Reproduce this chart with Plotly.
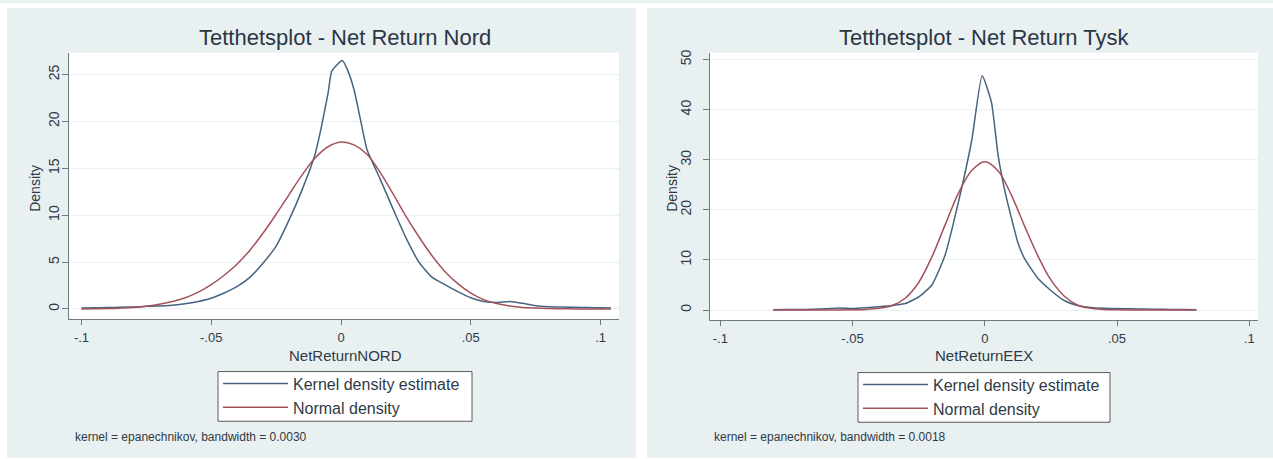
import plotly.graph_objects as go

W, H = 1273, 459

# ---------------- data ----------------
nord_x_kde = [-0.100, -0.095, -0.090, -0.085, -0.080, -0.075, -0.070, -0.065, -0.060, -0.055,
              -0.050, -0.045, -0.040, -0.035, -0.030, -0.025, -0.020, -0.015, -0.010, -0.0075,
              -0.005, -0.0035, 0.0005, 0.0025, 0.005, 0.0075, 0.010, 0.015, 0.020, 0.025,
              0.030, 0.035, 0.040, 0.045, 0.050, 0.055, 0.060, 0.065, 0.070, 0.075,
              0.080, 0.085, 0.090, 0.095, 0.100, 0.104]
nord_kde = [0.10, 0.12, 0.15, 0.18, 0.22, 0.28, 0.32, 0.40, 0.55, 0.80,
            1.15, 1.70, 2.40, 3.40, 4.90, 6.70, 9.50, 12.70, 16.50, 19.50,
            23.00, 25.40, 26.50, 25.50, 23.40, 20.20, 17.00, 13.90, 10.70, 7.60,
            5.00, 3.40, 2.60, 1.85, 1.20, 0.80, 0.70, 0.80, 0.60, 0.35,
            0.25, 0.20, 0.18, 0.15, 0.12, 0.10]

nord_x_norm = [-0.100, -0.090, -0.080, -0.075, -0.070, -0.065, -0.060, -0.055, -0.050, -0.045,
               -0.040, -0.035, -0.030, -0.025, -0.020, -0.015, -0.010, -0.005, 0.000, 0.005,
               0.010, 0.015, 0.020, 0.025, 0.030, 0.035, 0.040, 0.045, 0.050, 0.055,
               0.060, 0.065, 0.070, 0.080, 0.090, 0.104]
nord_norm = [0.01, 0.05, 0.17, 0.30, 0.50, 0.80, 1.20, 1.80, 2.60, 3.60,
             4.80, 6.30, 8.10, 10.10, 12.20, 14.30, 16.10, 17.30, 17.80, 17.50,
             16.50, 14.60, 12.30, 9.90, 7.70, 5.70, 4.00, 2.70, 1.70, 1.00,
             0.58, 0.32, 0.17, 0.05, 0.01, 0.00]

tysk_x_kde = [-0.080, -0.075, -0.070, -0.065, -0.060, -0.055, -0.050, -0.045, -0.040, -0.035,
              -0.030, -0.025, -0.020, -0.015, -0.010, -0.005, -0.001, 0.0025, 0.005, 0.0075,
              0.010, 0.0125, 0.015, 0.020, 0.025, 0.030, 0.035, 0.040, 0.045, 0.050,
              0.055, 0.060, 0.065, 0.070, 0.075, 0.080]
tysk_kde = [0.05, 0.08, 0.10, 0.15, 0.25, 0.40, 0.30, 0.45, 0.65, 0.90,
            1.30, 2.60, 5.00, 11.00, 21.50, 33.70, 46.80, 41.50, 31.00, 24.00,
            18.50, 13.50, 10.30, 6.40, 3.90, 1.90, 0.90, 0.50, 0.35, 0.30,
            0.25, 0.20, 0.15, 0.12, 0.08, 0.05]

tysk_x_norm = [-0.080, -0.070, -0.060, -0.050, -0.045, -0.040, -0.035, -0.030, -0.025, -0.020,
               -0.015, -0.010, -0.005, 0.000, 0.005, 0.010, 0.015, 0.020, 0.025, 0.030,
               0.035, 0.040, 0.045, 0.050, 0.060, 0.070, 0.080]
tysk_norm = [0.00, 0.00, 0.01, 0.03, 0.12, 0.35, 0.90, 2.40, 5.50, 10.60,
             17.00, 23.30, 27.80, 29.60, 27.80, 23.00, 16.80, 10.90, 6.00, 2.80,
             1.00, 0.35, 0.12, 0.03, 0.01, 0.00, 0.00]

x_tickvals = [-0.1, -0.05, 0, 0.05, 0.1]
x_ticktext = ["-.1", "-.05", "0", ".05", ".1"]
nord_y_ticks = [0, 5, 10, 15, 20, 25]
tysk_y_ticks = [0, 10, 20, 30, 40, 50]

titles = ["Tetthetsplot - Net Return Nord", "Tetthetsplot - Net Return Tysk"]
xtitles = ["NetReturnNORD", "NetReturnEEX"]
notes = ["kernel = epanechnikov, bandwidth = 0.0030", "kernel = epanechnikov, bandwidth = 0.0018"]
series_names = ["Kernel density estimate", "Normal density"]

# ---------------- styles ----------------
FONT = "Liberation Sans, Arial, sans-serif"
PANEL = "#e9f0f2"
KDE_COL = "#46637f"
NORM_COL = "#a4525a"
AXIS_COL = "#6e7b81"
TEXT_COL = "#2f3a44"
TITLE_COL = "#2b3645"

def px(x):
    return x / W

def py(y):
    return 1 - y / H

fig = go.Figure()

fig.add_trace(go.Scatter(x=nord_x_kde, y=nord_kde, mode="lines", name=series_names[0],
                         line=dict(color=KDE_COL, width=1.5, shape="spline", smoothing=0.5),
                         xaxis="x", yaxis="y", legend="legend"))
fig.add_trace(go.Scatter(x=nord_x_norm, y=nord_norm, mode="lines", name=series_names[1],
                         line=dict(color=NORM_COL, width=1.5, shape="spline", smoothing=1.0),
                         xaxis="x", yaxis="y", legend="legend"))
fig.add_trace(go.Scatter(x=tysk_x_kde, y=tysk_kde, mode="lines", name=series_names[0],
                         line=dict(color=KDE_COL, width=1.5, shape="spline", smoothing=0.5),
                         xaxis="x2", yaxis="y2", legend="legend2"))
fig.add_trace(go.Scatter(x=tysk_x_norm, y=tysk_norm, mode="lines", name=series_names[1],
                         line=dict(color=NORM_COL, width=1.5, shape="spline", smoothing=1.0),
                         xaxis="x2", yaxis="y2", legend="legend2"))

xcommon = dict(tickvals=x_tickvals, ticktext=x_ticktext, showline=True, linecolor=AXIS_COL,
               linewidth=1, ticks="outside", ticklen=5, tickcolor=AXIS_COL, showgrid=False,
               zeroline=False, tickfont=dict(family=FONT, size=13, color=TEXT_COL),
               ticklabelstandoff=1)
ycommon = dict(showline=True, linecolor=AXIS_COL, linewidth=1, ticks="outside", ticklen=6,
               tickcolor=AXIS_COL, showgrid=True, gridcolor="#e8f0f2", gridwidth=1,
               zeroline=False, tickangle=-90,
               tickfont=dict(family=FONT, size=14, color=TEXT_COL))

legcommon = dict(bgcolor="rgba(0,0,0,0)", borderwidth=0,
                 font=dict(family=FONT, size=16, color=TEXT_COL),
                 xanchor="left", yanchor="top", tracegroupgap=0, itemwidth=65)

fig.update_layout(
    width=W, height=H,
    margin=dict(l=0, r=0, t=0, b=0),
    paper_bgcolor=PANEL,
    plot_bgcolor="white",
    showlegend=True,
    xaxis=dict(domain=[px(69), px(619)], range=[-0.1048, 0.1071], anchor="y", **xcommon),
    yaxis=dict(domain=[py(318), py(50)], range=[-1.06, 27.33], anchor="x",
               tickvals=nord_y_ticks, ticklabelstandoff=-3, **ycommon),
    xaxis2=dict(domain=[px(710), px(1258)], range=[-0.1039, 0.1033], anchor="y2", **xcommon),
    yaxis2=dict(domain=[py(319), py(50)], range=[-1.98, 51.39], anchor="x2",
                tickvals=tysk_y_ticks, ticklabelstandoff=6, **ycommon),
    legend=dict(x=px(218), y=py(366), **legcommon),
    legend2=dict(x=px(858), y=py(367), **legcommon),
)

# white gaps around / between the two graph panels, and the legend frames
shapes = []
for (x0, x1, y0, y1) in [(0, 7, 0, H), (636, 647, 0, H), (0, W, 0, 5), (0, W, 458, H)]:
    shapes.append(dict(type="rect", xref="paper", yref="paper", x0=px(x0), x1=px(x1),
                       y0=py(y1), y1=py(y0), fillcolor="white", line=dict(width=0),
                       layer="below"))
for (x0, x1, y0, y1) in [(218, 472, 371, 421), (858, 1110, 372, 422)]:
    shapes.append(dict(type="rect", xref="paper", yref="paper", x0=px(x0), x1=px(x1),
                       y0=py(y1), y1=py(y0), fillcolor="white",
                       line=dict(width=1, color="#5a5a5a"), layer="below"))
fig.update_layout(shapes=shapes)

ann = []
centers = [345, 984]
ytitle_x = [35, 672]
note_x = [73, 712]
for i in range(2):
    ann.append(dict(text=titles[i], x=px(centers[i]), y=py(35), xref="paper", yref="paper",
                    showarrow=False, xanchor="center", yanchor="middle",
                    font=dict(family=FONT, size=22, color=TITLE_COL)))
    ann.append(dict(text=xtitles[i], x=px(centers[i]), y=py(355),
                    xref="paper", yref="paper", showarrow=False, xanchor="center",
                    yanchor="middle", font=dict(family=FONT, size=15, color=TEXT_COL)))
    ann.append(dict(text="Density", x=px(ytitle_x[i]), y=py(187), xref="paper", yref="paper",
                    showarrow=False, textangle=-90, xanchor="center", yanchor="middle",
                    font=dict(family=FONT, size=14, color=TEXT_COL)))
    ann.append(dict(text=notes[i], x=px(note_x[i]), y=py(437), xref="paper", yref="paper",
                    showarrow=False, xanchor="left", yanchor="middle",
                    font=dict(family=FONT, size=12, color=TEXT_COL)))
fig.update_layout(annotations=ann)

fig.write_html("out.html")
